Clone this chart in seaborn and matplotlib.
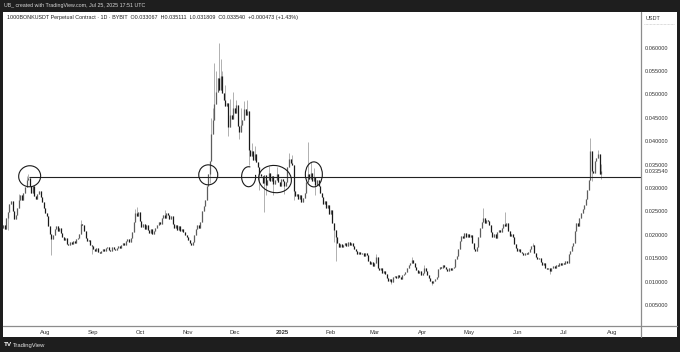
# 1000BONKUSDT daily candles (Bybit perp) with a hand-drawn horizontal level and circles.
import matplotlib

matplotlib.use("Agg")
import matplotlib.dates as mdates
import matplotlib.pyplot as plt
import numpy as np
import pandas as pd
import seaborn as sns
from matplotlib.lines import Line2D
from matplotlib.patches import Arc, Ellipse, Rectangle
from matplotlib.transforms import ScaledTranslation

# daily closes from 2024-07-05 to 2025-07-25, in thousandths of a USDT
close_k = [
    22.0, 21.3, 23.5, 24.8, 26.5, 27.2, 25.0, 23.4, 24.2, 25.8,
    27.5, 28.6, 27.4, 28.9, 30.2, 31.6, 32.2, 30.5, 29.0, 30.4,
    28.2, 27.6, 28.8, 29.3, 28.0, 26.9, 25.8, 24.6, 23.9, 21.8,
    20.2, 19.0, 20.0, 21.3, 21.8, 20.9, 21.4, 20.3, 19.5, 18.8,
    19.2, 18.1, 17.8, 18.4, 18.0, 18.6, 18.3, 19.0, 19.4, 20.2,
    22.3, 22.0, 20.8, 19.4, 18.6, 18.9, 17.9, 17.6, 17.0, 16.5,
    17.2, 16.4, 16.0, 16.6, 16.9, 16.5, 17.1, 17.4, 16.8, 16.6,
    17.3, 17.0, 16.7, 17.2, 17.5, 17.1, 17.8, 18.3, 17.9, 18.6,
    19.0, 18.4, 19.2, 20.5, 22.8, 24.6, 24.0, 24.9, 23.0, 21.6,
    22.4, 21.2, 22.0, 21.0, 20.4, 21.3, 20.2, 20.8, 21.5, 22.0,
    22.8, 22.3, 23.5, 24.2, 23.6, 24.7, 24.3, 23.4, 24.0, 22.4,
    21.5, 22.0, 21.0, 21.8, 20.8, 21.2, 20.5, 20.0, 19.5, 18.9,
    18.2, 17.8, 18.5, 20.0, 21.2, 22.0, 21.4, 22.8, 25.0, 26.2,
    27.4, 30.5, 33.0, 35.8, 41.5, 44.6, 48.0, 50.5, 53.5, 51.0,
    54.0, 50.2, 48.8, 47.5, 48.2, 43.0, 45.5, 44.8, 47.0, 46.0,
    47.8, 43.2, 42.0, 43.5, 44.6, 46.8, 45.5, 46.5, 38.2, 36.8,
    37.9, 36.0, 37.2, 35.6, 34.4, 33.0, 32.6, 31.0, 32.8, 30.6,
    31.8, 33.2, 31.4, 32.5, 30.9, 31.7, 32.9, 31.2, 30.5, 32.0,
    31.5, 30.4, 31.3, 34.5, 36.2, 35.4, 34.8, 29.4, 28.2, 28.8,
    27.6, 28.4, 27.0, 27.9, 29.0, 31.2, 32.9, 32.0, 33.1, 31.5,
    32.4, 30.6, 31.8, 30.4, 29.0, 28.0, 26.5, 27.3, 25.8, 26.4,
    24.5, 25.2, 22.6, 21.0, 19.6, 18.2, 17.4, 18.0, 17.3, 17.8,
    18.2, 17.6, 18.4, 17.9, 18.3, 17.5, 17.0, 16.6, 15.9, 16.3,
    15.8, 16.2, 15.5, 16.0, 15.6, 14.4, 13.8, 14.2, 13.3, 13.9,
    15.2, 13.0, 12.4, 12.8, 11.9, 12.3, 11.6, 10.8, 10.2, 10.5,
    10.0, 10.9, 11.2, 10.7, 11.4, 11.0, 10.6, 11.3, 11.6, 12.0,
    12.8, 13.5, 14.0, 14.6, 13.9, 13.2, 12.4, 11.8, 12.2, 11.5,
    11.9, 12.9, 12.2, 11.3, 10.8, 10.2, 9.6, 10.1, 10.5, 11.0,
    12.6, 13.2, 12.8, 13.6, 13.1, 12.6, 12.2, 12.8, 12.4, 12.9,
    13.2, 14.8, 15.4, 17.0, 18.6, 19.8, 19.2, 20.3, 19.5, 20.2,
    19.6, 20.0, 18.2, 17.0, 16.6, 17.4, 19.5, 21.4, 22.8, 23.6,
    22.5, 23.2, 23.0, 22.0, 20.6, 19.6, 20.2, 19.4, 20.5, 21.0,
    20.6, 21.4, 22.3, 21.8, 22.5, 20.8, 19.8, 20.2, 19.5, 18.0,
    17.2, 16.6, 17.0, 16.4, 16.2, 15.6, 16.0, 15.8, 16.4, 16.9,
    17.5, 17.8, 16.2, 15.2, 14.8, 15.0, 14.2, 13.6, 13.9, 13.0,
    12.6, 12.9, 12.2, 12.8, 13.4, 13.0, 13.6, 13.3, 13.9, 13.5,
    14.0, 13.7, 14.3, 14.0, 15.8, 16.6, 17.5, 18.2, 20.8, 22.6,
    21.9, 23.5, 24.6, 25.5, 26.4, 27.6, 29.5, 31.8, 37.8, 33.6,
    33.2, 35.8, 36.4, 37.2, 33.067, 33.54,
]
first_open_k = 21.5
# wicks that stick out beyond the body (day number from the first candle)
hi_idx = [10, 15, 16, 50, 85, 86, 104, 134, 135, 136, 137, 139, 140, 141, 143, 146, 148,
          150, 153, 155, 157, 160, 162, 171, 176, 184, 186, 196, 198, 200, 240, 263, 271,
          309, 323, 341, 378, 383, 385]
hi_val = [28.8, 32.6, 32.9, 23.2, 25.6, 26.0, 25.3, 45.0, 47.0, 56.8, 55.0, 60.9, 57.5, 55.0,
          52.0, 49.0, 50.5, 48.8, 47.0, 48.5, 48.7, 39.5, 39.0, 34.6, 34.5, 37.5, 37.0, 39.8,
          35.5, 34.2, 15.9, 15.3, 13.6, 25.7, 24.9, 18.2, 40.6, 38.1, 35.111]
lo_idx = [3, 31, 57, 133, 145, 152, 158, 165, 168, 169, 174, 181, 187, 201, 213, 214, 250,
          276, 352, 379, 385]
lo_val = [21.0, 15.7, 15.9, 31.0, 41.0, 40.5, 35.0, 29.5, 24.9, 28.5, 28.6, 28.8, 27.5, 28.6,
          18.5, 14.3, 9.4, 9.2, 11.6, 31.5, 31.809]

level = 0.03234
last_price = 0.03354
price_ticks = [0.005, 0.010, 0.015, 0.020, 0.025, 0.030, 0.035, 0.040, 0.045, 0.050, 0.055, 0.060]
month_ticks = pd.date_range("2024-08-01", "2025-08-01", freq="MS")
month_labels = ["Aug", "Sep", "Oct", "Nov", "Dec", "2025", "Feb", "Mar", "Apr", "May", "Jun", "Jul", "Aug"]
# hand-drawn circles: (date, price, width px, height px, angle)
circles = [("2024-07-22", 0.0325, 22, 21, 10), ("2024-11-14", 0.0328, 19, 20, 0),
           ("2024-12-27", 0.0319, 33, 27, -12), ("2025-01-21", 0.0329, 17, 25, 0)]
open_arc = ("2024-12-10", 0.0324, 14, 20)

df = pd.DataFrame({"date": pd.date_range("2024-07-05", periods=len(close_k), freq="D"),
                   "close": np.array(close_k) / 1000})
df["open"] = df["close"].shift(1).fillna(first_open_k / 1000)
df["high"] = df[["open", "close"]].max(axis=1)
df["low"] = df[["open", "close"]].min(axis=1)
df.loc[hi_idx, "high"] = np.maximum(df.loc[hi_idx, "high"], np.array(hi_val) / 1000)
df.loc[lo_idx, "low"] = np.minimum(df.loc[lo_idx, "low"], np.array(lo_val) / 1000)
up = df["close"] >= df["open"]

sns.set_theme(style="white")
plt.rcParams["font.family"] = ["Liberation Sans", "DejaVu Sans"]
W, H = 680, 352
fig = plt.figure(figsize=(W / 100, H / 100), dpi=100, facecolor="#1e1e1e")
fig.patches.append(Rectangle((3 / W, 15 / H), 674 / W, 325 / H, transform=fig.transFigure,
                             facecolor="white", edgecolor="none", zorder=-10))
ax = fig.add_axes([3 / W, 26 / H, 638 / W, 314 / H])
ax.set_facecolor("white")

ax.vlines(df["date"], df["low"], df["high"], color="#a3a3a3", lw=0.6, zorder=2)
ax.vlines(df.loc[up, "date"], df.loc[up, "open"], df.loc[up, "close"], color="#5e5e5e", lw=0.9, zorder=3)
ax.vlines(df.loc[~up, "date"], df.loc[~up, "close"], df.loc[~up, "open"], color="#1a1a1a", lw=0.9, zorder=3)
ax.hlines(level, pd.Timestamp("2024-07-21 12:00"), pd.Timestamp("2025-08-25"), color="#222222", lw=0.8, zorder=4)

for d, p, w, h, a in circles:
    tr = fig.dpi_scale_trans + ScaledTranslation(mdates.date2num(pd.Timestamp(d)), p, ax.transData)
    ax.add_artist(Ellipse((0, 0), w / 100, h / 100, angle=a, transform=tr, fill=False,
                          edgecolor="#1a1a1a", lw=0.8, zorder=5))
d, p, w, h = open_arc
tr = fig.dpi_scale_trans + ScaledTranslation(mdates.date2num(pd.Timestamp(d)), p, ax.transData)
ax.add_artist(Arc((0, 0), w / 100, h / 100, theta1=80, theta2=375, transform=tr,
                  edgecolor="#1a1a1a", lw=0.8, zorder=5))

ax.set_xlim(pd.Timestamp("2024-07-04 20:00"), pd.Timestamp("2025-08-19 16:00"))
ax.set_ylim(0.0005, 0.0676)
for s in ax.spines.values():
    s.set_visible(False)
ax.yaxis.tick_right()
ax.set_yticks(price_ticks + [last_price])
ax.set_yticklabels([f"{v:.6f}" for v in price_ticks + [last_price]])
ax.set_xticks(month_ticks)
ax.set_xticklabels(month_labels)
ax.tick_params(axis="y", length=0, pad=3, labelsize=4.1, labelcolor="#333333")
ax.tick_params(axis="x", length=0, pad=3.2, labelsize=4.2, labelcolor="#333333")
for lab in ax.get_xticklabels():
    if lab.get_text() == "2025":
        lab.set_fontweight("bold")
ax.grid(False)

fig.add_artist(Line2D([641 / W, 641 / W], [15 / H, 340 / H], color="#8c8c8c", lw=0.9))
fig.add_artist(Line2D([3 / W, 677 / W], [26 / H, 26 / H], color="#8c8c8c", lw=0.9))
fig.add_artist(Line2D([644 / W, 674 / W], [328 / H, 328 / H], color="#bbbbbb", lw=0.5, ls=(0, (1, 1))))

fig.text(4 / W, 1 - 5.5 / H, "UB_ created with TradingView.com, Jul 25, 2025 17:51 UTC",
         color="#d6d6d6", fontsize=3.75, va="center", ha="left")
fig.text(7 / W, 1 - 17 / H,
         "1000BONKUSDT Perpetual Contract · 1D · BYBIT  O0.033067  H0.035111  L0.031809  C0.033540  +0.000473 (+1.43%)",
         color="#222222", fontsize=3.9, va="center", ha="left")
fig.text(646 / W, 1 - 18 / H, "USDT", color="#333333", fontsize=4.0, va="center", ha="left")
fig.text(4 / W, 1 - 345 / H, "TV", color="white", fontsize=4.6, fontweight="bold", va="center", ha="left")
fig.text(13 / W, 1 - 345 / H, "TradingView", color="#e6e6e6", fontsize=4.2, va="center", ha="left")

fig.savefig("out.png", dpi=100, facecolor=fig.get_facecolor())
